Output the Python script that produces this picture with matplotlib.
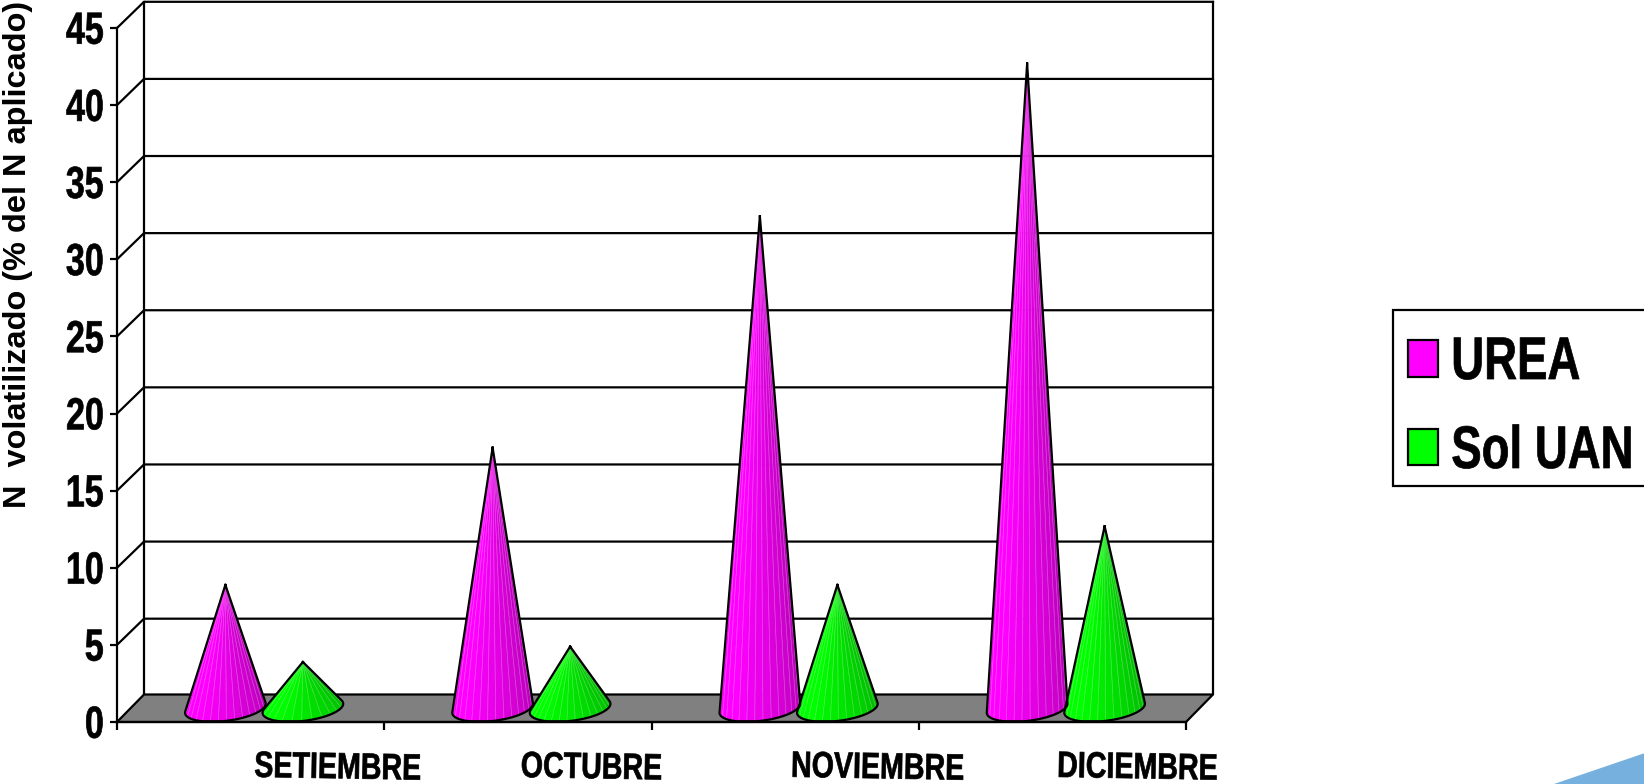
# coding: utf-8
""" volatilizacion de N por mes: conos 3D de urea y solucion UAN """
import numpy as np
import matplotlib
matplotlib.use("Agg")
import matplotlib.pyplot as plt
from matplotlib.collections import PolyCollection
from matplotlib.patches import Patch, Polygon, Rectangle
from matplotlib.patheffects import AbstractPathEffect
from matplotlib.transforms import Affine2D

months = ["SETIEMBRE", "OCTUBRE", "NOVIEMBRE", "DICIEMBRE"]
urea = [8, 16.9, 31.9, 41.8]
sol_uan = [3, 4, 8, 11.8]
y_ticks = [0, 5, 10, 15, 20, 25, 30, 35, 40, 45]
series_names = ["UREA", "Sol UAN"]

W, H = 1644, 784
FONT = "Liberation Sans"
LW = 1.6

MAGENTA = np.array([1.0, 0.0, 1.0])
GREEN = np.array([0.0, 1.0, 0.0])


class TallText(AbstractPathEffect):
    """Stretch glyphs vertically about their middle, gives a narrow bold look."""

    def __init__(self, factor, bold=0.5):
        super().__init__()
        self.factor = factor
        self.bold = bold

    def draw_path(self, renderer, gc, tpath, affine, rgbFace=None):
        ext = tpath.get_extents()
        mid = (ext.y0 + ext.y1) / 2
        tr = Affine2D().translate(0, -mid).scale(1, self.factor).translate(0, mid) + affine
        gc0 = renderer.new_gc()
        gc0.copy_properties(gc)
        gc0.set_linewidth(self.bold)
        gc0.set_foreground(rgbFace)
        renderer.draw_path(gc0, tpath, tr, rgbFace)
        gc0.restore()


fig = plt.figure(figsize=(W / 100, H / 100), dpi=100, facecolor="white")
# front plane of the box, in pixels: x 117..1186, y 28..722
ax = fig.add_axes([117 / W, 1 - 722 / H, (1186 - 117) / W, (722 - 28) / H])
ax.set_xlim(0, len(months))
ax.set_ylim(0, 45)
ax.patch.set_visible(False)

depth_x = 27 / 267.25
depth_y = 27.5 / 15.42
grid_dy = 26.2 / 15.42

# back wall and horizontal grid
for v in y_ticks[1:]:
    ax.plot([0, depth_x, 4 + depth_x], [v, v + grid_dy, v + grid_dy],
            color="black", lw=LW, clip_on=False, zorder=1)
ax.plot([depth_x, depth_x], [depth_y, 45 + grid_dy], color="black", lw=LW, clip_on=False, zorder=1)
ax.plot([4 + depth_x, 4 + depth_x], [depth_y, 45 + grid_dy], color="black", lw=LW, clip_on=False, zorder=1)

# floor
ax.add_patch(Polygon([[0, 0], [depth_x, depth_y], [4 + depth_x, depth_y], [4, 0]], closed=True,
                     facecolor="#808080", edgecolor="black", lw=LW, clip_on=False, zorder=2))


def draw_cone(cx, value, color):
    r = 38 / 267.25
    d_px = 13.5
    t = np.radians(np.arange(0, 360, 3))
    # base is flattened a little at the front
    s = np.maximum(np.sin(t), -0.96)
    bx = cx + depth_x / 2 + r * np.cos(t) + d_px / 267.25 * s
    by = depth_y / 2 + d_px / 15.42 * s
    ax_, ay_ = cx + depth_x / 2, depth_y / 2 + value

    # silhouette runs between the two tangents from the apex
    slope = (bx - ax_) / (ay_ - by)
    i0, i1 = int(np.argmin(slope)), int(np.argmax(slope))
    idx = np.arange(i0, i1 + 1) if i1 > i0 else np.r_[i0:len(t), 0:i1 + 1]
    arc = np.column_stack([bx[idx], by[idx]])

    n_facets = 14
    step = max(1, len(arc) // n_facets)
    polys, cols, edges = [], [], []
    for k in range(0, len(arc) - 1, step):
        seg = arc[k:k + step + 1]
        polys.append(np.vstack([[ax_, ay_], seg]))
        f = k / (len(arc) - 1)
        shade = 1.0 if f < 0.25 else 1.0 - 0.1 * (f - 0.25) / 0.25 if f < 0.5 else 0.9 - 0.22 * (f - 0.5) / 0.5
        c = color * shade
        cols.append(c)
        edges.append(c + (1 - c) * 0.25)
    ax.add_collection(PolyCollection(polys, facecolors=cols, edgecolors=edges, linewidths=0.5,
                                     clip_on=False, zorder=4))
    outline = np.vstack([[ax_, ay_], arc, [ax_, ay_]])
    ax.plot(outline[:, 0], outline[:, 1], color="black", lw=LW, solid_joinstyle="round",
            clip_on=False, zorder=5)


for i in range(len(months)):
    draw_cone(i + 0.355, urea[i], MAGENTA)
    draw_cone(i + 0.645, sol_uan[i], GREEN)

# axes
for s in ["top", "right"]:
    ax.spines[s].set_visible(False)
for s in ["left", "bottom"]:
    ax.spines[s].set_linewidth(LW)
    ax.spines[s].set_zorder(3)
ax.set_yticks(y_ticks)
ax.set_xticks(range(len(months) + 1))
ax.set_xticklabels([])
ax.tick_params(axis="y", length=5, width=LW, pad=4.5)
ax.tick_params(axis="x", length=6, width=LW)
for lab in ax.get_yticklabels():
    lab.set_family(FONT)
    lab.set_fontweight("bold")
    lab.set_fontsize(24.5)
    lab.set_path_effects([TallText(1.32)])

# month names sit off-centre, towards the right of each band
label_pos = [0.825, 1.775, 2.845, 3.817]
for x, name in zip(label_pos, months):
    ax.text(x, -2.95, name, ha="center", va="center", rotation=-1, family=FONT,
            fontweight="bold", fontsize=20.6, clip_on=False, path_effects=[TallText(1.28)])

fig.text(18 / W, 1 - 254 / H, "N  volatilizado (% del N aplicado)", rotation=90, ha="center", va="center",
         family=FONT, fontweight="bold", fontsize=23.4)

# legend frame runs past the right edge of the figure
fig.add_artist(Rectangle((1393 / W, 1 - 486 / H), (W + 10 - 1393) / W, 176 / H, transform=fig.transFigure,
                         facecolor="white", edgecolor="black", lw=LW))
handles = [Patch(facecolor="#FF00FF", edgecolor="black", lw=LW),
           Patch(facecolor="#00FF00", edgecolor="black", lw=LW)]
leg = fig.legend(handles, series_names, loc="upper left", bbox_to_anchor=(1408 / W, 1 - 340 / H),
                 bbox_transform=fig.transFigure, frameon=False,
                 borderaxespad=0, borderpad=0, handlelength=0.66, handleheight=0.86, handletextpad=0.29,
                 labelspacing=0.98, prop={"family": FONT, "weight": "bold", "size": 32.8})
for txt in leg.get_texts():
    txt.set_path_effects([TallText(1.32)])

# blue corner ornament
fig.add_artist(Polygon([[1554 / W, 0], [1 + 1 / W, 31 / H], [1 + 1 / W, 0]], closed=True,
                       transform=fig.transFigure, facecolor="#75B0DE", edgecolor="none"))

plt.savefig("out.png", dpi=100)
